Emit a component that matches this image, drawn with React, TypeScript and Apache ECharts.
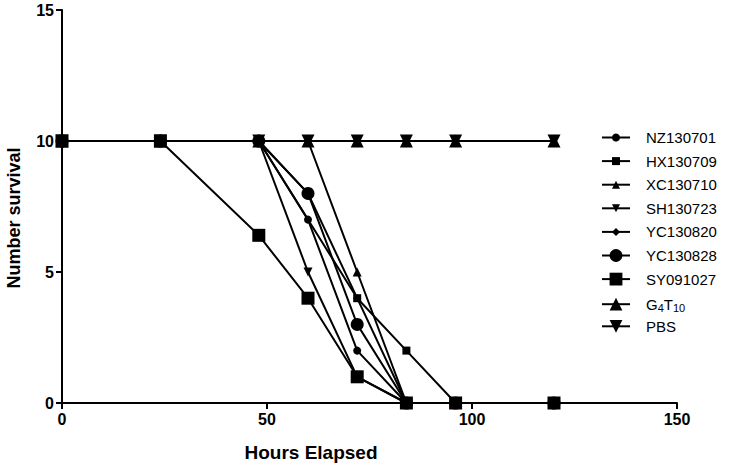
import React, { useEffect, useRef } from "react";
import * as echarts from "echarts";

const hours = [0, 24, 48, 60, 72, 84, 96, 120];
const nz130701 = [10, 10, 10, 7, 2, 0, 0, 0];
const hx130709: (number | string)[] = [10, 10, 10, "-", 4, 2, 0, 0];
const xc130710 = [10, 10, 10, 10, 5, 0, 0, 0];
const sh130723 = [10, 10, 10, 5, 1, 0, 0, 0];
const yc130820 = [10, 10, 10, 8, 4, 0, 0, 0];
const yc130828 = [10, 10, 10, 8, 3, 0, 0, 0];
const sy091027 = [10, 10, 6.4, 4, 1, 0, 0, 0];
const g4t10 = [10, 10, 10, 10, 10, 10, 10, 10];
const pbs = [10, 10, 10, 10, 10, 10, 10, 10];

const legendNames = ["NZ130701", "HX130709", "XC130710", "SH130723", "YC130820", "YC130828", "SY091027", "G4T10", "PBS"];
const xTicks = [0, 50, 100, 150];
const yTicks = [0, 5, 10, 15];

const TRI_DOWN = "path://M0,0L10,0L5,10Z";
const FONT = "'Liberation Sans', Arial, sans-serif";

const seriesDefs: [string, (number | string)[], string, number][] = [
  ["YC130820", yc130820, "diamond", 8],
  ["SH130723", sh130723, TRI_DOWN, 9],
  ["HX130709", hx130709, "rect", 8],
  ["NZ130701", nz130701, "circle", 8],
  ["XC130710", xc130710, "triangle", 9],
  ["YC130828", yc130828, "circle", 13],
  ["G4T10", g4t10, "triangle", 13],
  ["PBS", pbs, TRI_DOWN, 13],
  ["SY091027", sy091027, "rect", 13],
];

export default function App() {
  const ref = useRef<HTMLDivElement>(null);
  useEffect(() => {
    document.body.style.margin = "0";
    if (!ref.current) return;
    const chart = echarts.init(ref.current, null, { renderer: "svg" });
    const series = seriesDefs.map(([name, vals, sym, size]) => ({
      name,
      type: "line",
      data: hours.map((h, i) => [h, vals[i]]),
      connectNulls: true,
      symbol: sym,
      symbolSize: size,
      showAllSymbol: true,
      lineStyle: { color: "#000", width: 2 },
      itemStyle: { color: "#000", borderWidth: 0 },
      emphasis: { disabled: true },
    }));
    const rowTop = 139;
    const rowGap = 23.6;
    const legends = legendNames.map((name, i) => {
      const def = seriesDefs.find((d) => d[0] === name)!;
      const big = def[3] >= 12;
      const ih = big ? 16 : 10;
      return {
        data: [name],
        left: 601,
        top: rowTop + i * rowGap - 9,
        itemWidth: 28,
        itemHeight: ih,
        padding: 0,
        selectedMode: false,
        formatter: (n: string) =>
          n === "G4T10" ? "{m|G}{s|4}{m|T}{s|10}" : "{m|" + n + "}",
        textStyle: {
          color: "#000",
          fontFamily: FONT,
          fontSize: 15,
          padding: [0, 0, 0, 11],
          rich: {
            m: { fontSize: 15, fontFamily: FONT, color: "#000", lineHeight: 18 },
            s: { fontSize: 11, fontFamily: FONT, color: "#000", lineHeight: 18, verticalAlign: "bottom", padding: [7, 0, 0, 0] },
          },
        },
      };
    });
    chart.setOption({
      animation: false,
      backgroundColor: "#fff",
      grid: { left: 62, right: 69, top: 10, bottom: 62, containLabel: false },
      legend: legends,
      xAxis: {
        type: "value",
        min: 0,
        max: 150,
        interval: 50,
        splitLine: { show: false },
        axisLine: { onZero: false, lineStyle: { color: "#000", width: 2 } },
        axisTick: { length: 6, lineStyle: { color: "#000", width: 2 } },
        axisLabel: {
          color: "#000",
          fontFamily: FONT,
          fontWeight: "bold",
          fontSize: 16,
          margin: 8,
          formatter: (v: number) => (xTicks.includes(v) ? String(v) : ""),
        },
      },
      yAxis: {
        type: "value",
        min: 0,
        max: 15,
        interval: 5,
        splitLine: { show: false },
        axisLine: { show: true, onZero: false, lineStyle: { color: "#000", width: 2 } },
        axisTick: { show: true, length: 6, lineStyle: { color: "#000", width: 2 } },
        axisLabel: {
          color: "#000",
          fontFamily: FONT,
          fontWeight: "bold",
          fontSize: 16,
          margin: 8,
          formatter: (v: number) => (yTicks.includes(v) ? String(v) : ""),
        },
      },
      graphic: [
        {
          type: "text",
          x: 311,
          y: 452,
          style: {
            text: "Hours Elapsed",
            x: 0,
            y: 0,
            align: "center",
            verticalAlign: "middle",
            fill: "#000",
            font: "bold 19px " + FONT,
          },
        },
        {
          type: "text",
          x: 14,
          y: 218,
          rotation: Math.PI / 2,
          style: {
            text: "Number survival",
            x: 0,
            y: 0,
            align: "center",
            verticalAlign: "middle",
            fill: "#000",
            font: "bold 18px " + FONT,
          },
        },
      ],
      series,
    });
    return () => chart.dispose();
  }, []);
  return <div ref={ref} style={{ width: 746, height: 465 }} />;
}
